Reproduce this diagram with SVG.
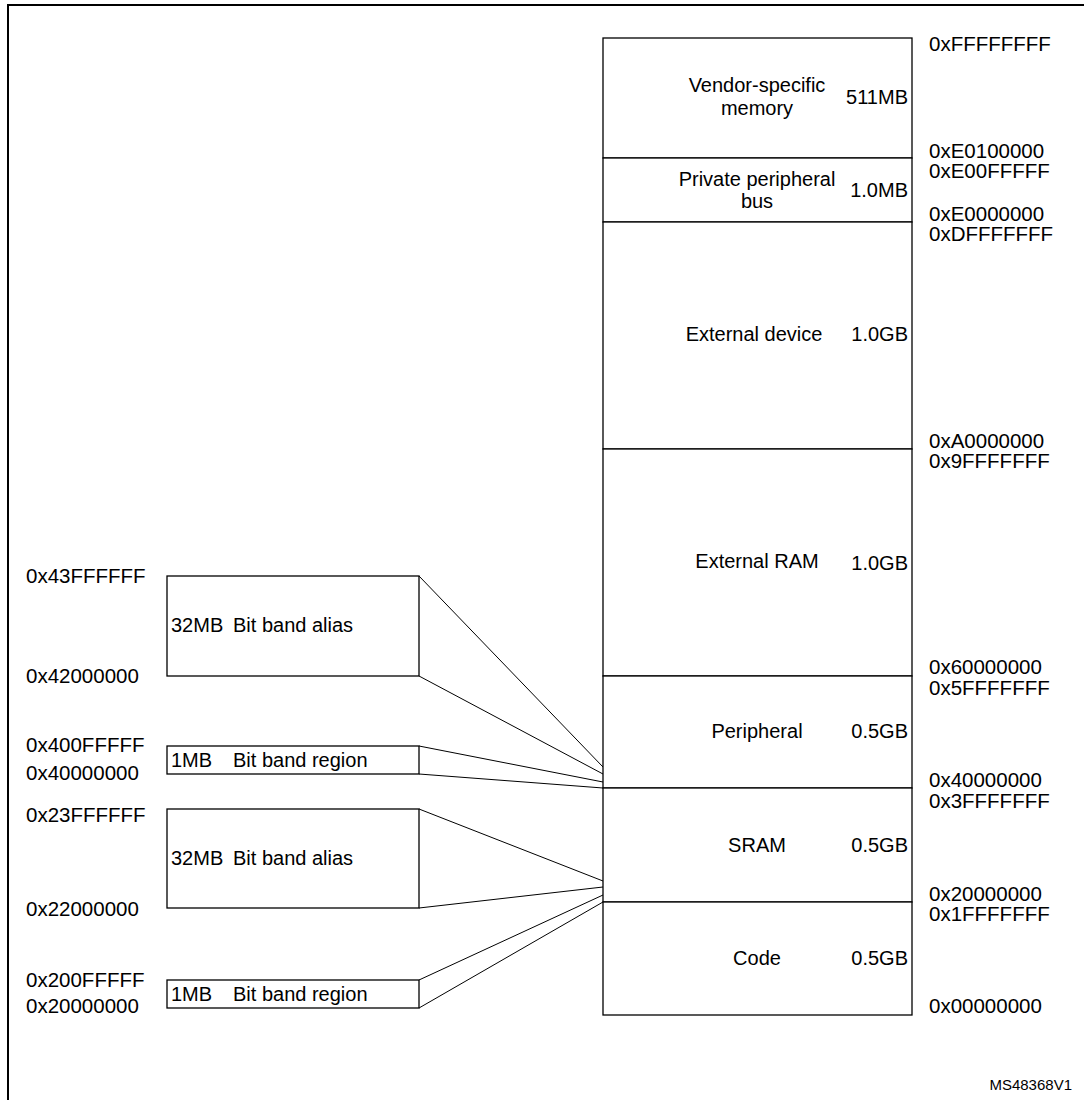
<svg xmlns="http://www.w3.org/2000/svg" width="1084" height="1100" viewBox="0 0 1084 1100">
<style>
  text { font-family: "Liberation Sans", Arial, sans-serif; font-size: 20px; fill: #000; }
  .hex { font-size: 20.5px; }
  .mid { text-anchor: middle; }
  .end { text-anchor: end; }
  .box { fill: #fff; stroke: #000; stroke-width: 1.3; }
  .conn line { stroke: #000; stroke-width: 1; }
  .tag { font-size: 15px; }
</style>
<rect x="0" y="0" width="1084" height="1100" fill="#fff"/>
<path d="M8,1100 V5 H1084" fill="none" stroke="#000" stroke-width="2"/>

<g id="connectors" class="conn">
  <line x1="419" y1="576" x2="603" y2="767"/>
  <line x1="419" y1="676" x2="603" y2="774"/>
  <line x1="419" y1="746" x2="603" y2="782"/>
  <line x1="419" y1="774" x2="603" y2="788"/>
  <line x1="419" y1="809" x2="603" y2="881"/>
  <line x1="419" y1="908" x2="603" y2="887"/>
  <line x1="419" y1="980" x2="603" y2="895"/>
  <line x1="419" y1="1008" x2="603" y2="902"/>
</g>

<g id="vendor">
  <rect class="box" x="603" y="38" width="309" height="120"/>
  <text class="mid" x="757" y="92">Vendor-specific</text>
  <text class="mid" x="757" y="115">memory</text>
  <text class="end" x="908" y="104">511MB</text>
</g>
<g id="ppb">
  <rect class="box" x="603" y="158" width="309" height="64"/>
  <text class="mid" x="757" y="186">Private peripheral</text>
  <text class="mid" x="757" y="208">bus</text>
  <text class="end" x="908" y="197">1.0MB</text>
</g>
<g id="extdev">
  <rect class="box" x="603" y="222" width="309" height="227"/>
  <text class="mid" x="754" y="341">External device</text>
  <text class="end" x="908" y="341">1.0GB</text>
</g>
<g id="extram">
  <rect class="box" x="603" y="449" width="309" height="227"/>
  <text class="mid" x="757" y="568">External RAM</text>
  <text class="end" x="908" y="570">1.0GB</text>
</g>
<g id="periph">
  <rect class="box" x="603" y="676" width="309" height="112"/>
  <text class="mid" x="757" y="738">Peripheral</text>
  <text class="end" x="908" y="738">0.5GB</text>
</g>
<g id="sram">
  <rect class="box" x="603" y="788" width="309" height="114"/>
  <text class="mid" x="757" y="852">SRAM</text>
  <text class="end" x="908" y="852">0.5GB</text>
</g>
<g id="code">
  <rect class="box" x="603" y="902" width="309" height="113"/>
  <text class="mid" x="757" y="965">Code</text>
  <text class="end" x="908" y="965">0.5GB</text>
</g>

<g id="addr-right">
  <text class="hex" x="929" y="51">0xFFFFFFFF</text>
  <text class="hex" x="929" y="158">0xE0100000</text>
  <text class="hex" x="929" y="178">0xE00FFFFF</text>
  <text class="hex" x="929" y="221">0xE0000000</text>
  <text class="hex" x="929" y="241">0xDFFFFFFF</text>
  <text class="hex" x="929" y="448">0xA0000000</text>
  <text class="hex" x="929" y="468">0x9FFFFFFF</text>
  <text class="hex" x="929" y="674">0x60000000</text>
  <text class="hex" x="929" y="695">0x5FFFFFFF</text>
  <text class="hex" x="929" y="787">0x40000000</text>
  <text class="hex" x="929" y="808">0x3FFFFFFF</text>
  <text class="hex" x="929" y="901">0x20000000</text>
  <text class="hex" x="929" y="921">0x1FFFFFFF</text>
  <text class="hex" x="929" y="1013">0x00000000</text>
</g>

<g id="alias-periph">
  <rect class="box" x="167" y="576" width="252" height="100"/>
  <text x="171" y="632">32MB<tspan x="233">Bit band alias</tspan></text>
</g>
<g id="region-periph">
  <rect class="box" x="167" y="746" width="252" height="28"/>
  <text x="171" y="767">1MB<tspan x="233">Bit band region</tspan></text>
</g>
<g id="alias-sram">
  <rect class="box" x="167" y="809" width="252" height="99"/>
  <text x="171" y="865">32MB<tspan x="233">Bit band alias</tspan></text>
</g>
<g id="region-sram">
  <rect class="box" x="167" y="980" width="252" height="28"/>
  <text x="171" y="1001">1MB<tspan x="233">Bit band region</tspan></text>
</g>

<g id="addr-left">
  <text class="hex" x="26" y="583">0x43FFFFFF</text>
  <text class="hex" x="26" y="683">0x42000000</text>
  <text class="hex" x="26" y="752">0x400FFFFF</text>
  <text class="hex" x="26" y="780">0x40000000</text>
  <text class="hex" x="26" y="822">0x23FFFFFF</text>
  <text class="hex" x="26" y="916">0x22000000</text>
  <text class="hex" x="26" y="987">0x200FFFFF</text>
  <text class="hex" x="26" y="1013">0x20000000</text>
</g>

<text class="tag end" x="1072" y="1090">MS48368V1</text>
</svg>
